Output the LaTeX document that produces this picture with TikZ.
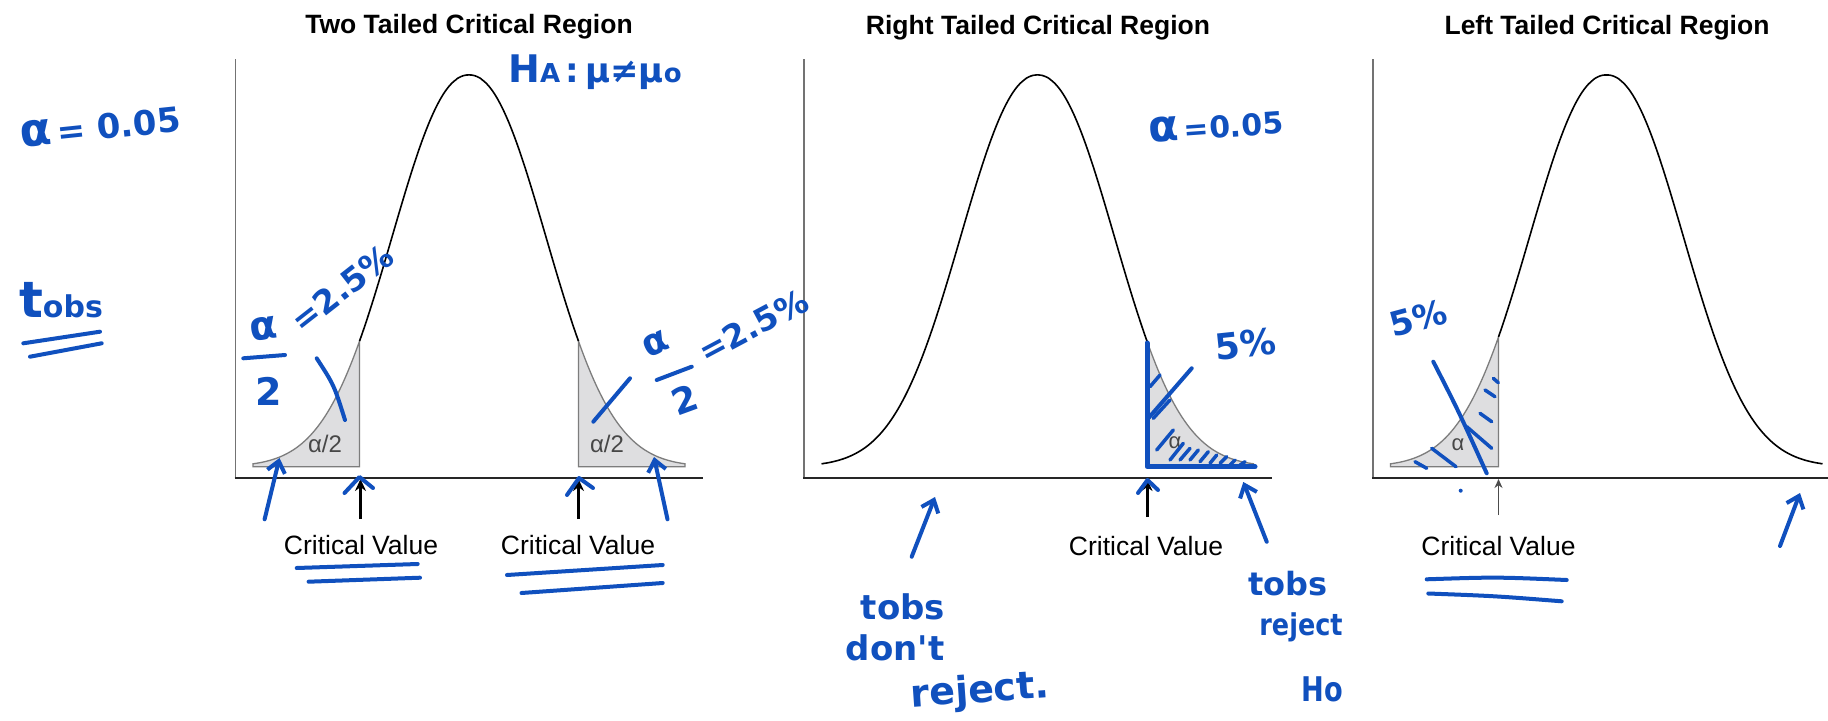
\documentclass[tikz,border=0pt]{standalone}
\usepackage{fontspec}
\setmainfont{Liberation Sans}
\newfontfamily\handfont{DejaVu Sans}
\usetikzlibrary{arrows.meta}
\definecolor{hand}{RGB}{16,80,190}
\definecolor{shadefill}{RGB}{222,222,224}
\definecolor{shadeline}{RGB}{125,125,125}
\newcommand\fs[1]{\fontsize{#1}{#1}\selectfont}
\tikzset{
  x=1pt, y=-1pt,
  declare function={bell(\t)=466.7-391.7*exp(-pow(abs(\t)/103.1+0.0001,2.15));},
  title/.style={font=\fs{26.5}\bfseries, inner sep=0pt},
  cvlabel/.style={font=\fs{26.5}, inner sep=0pt},
  areatext/.style={font=\fs{24}, text=black!72, inner sep=0pt},
  vaxis/.style={draw=black!55, line width=1.5pt},
  haxis/.style={draw=black!85, line width=2pt},
  curve/.style={draw=black, line width=1.6pt},
  tail/.style={fill=shadefill, draw=shadeline, line width=1.3pt},
  blackarr/.style={draw=black, line width=3pt, -{Stealth[length=12pt,width=11pt]}},
  thinarr/.style={draw=black!70, line width=1.8pt, -{Stealth[length=9pt,width=8pt]}},
  ink/.style={draw=hand, line width=4pt, line cap=round, line join=round},
  hatch/.style={ink, line width=3.5pt},
  inkarr/.style={ink, -{Straight Barb[length=11pt,width=18pt]}},
  handtext/.style={text=hand, inner sep=0pt, font=\handfont\bfseries},
}
\begin{document}
\begin{tikzpicture}
\useasboundingbox (0,0) rectangle (1828,720);
\fill[white] (0,0) rectangle (1828,720);

% ---------------- Panel 1: two tailed ----------------
\node[title] (t1) at (469,27) {Two Tailed Critical Region};
\draw[vaxis] (235.5,59) -- (235.5,477.7);
\draw[haxis] (234.5,477.7) -- (703,477.7);
\filldraw[tail] (253,466.7) -- plot[domain=-216:-109.5,samples=60] ({469+\x},{bell(\x)}) -- (359.5,466.7) -- cycle;
\filldraw[tail] (578.5,466.7) -- plot[domain=109.5:216,samples=60] ({469+\x},{bell(\x)}) -- (685,466.7) -- cycle;
\draw[curve] plot[domain=-109.5:109.5,samples=140] ({469+\x},{bell(\x)});
\node[areatext] (a1) at (325,444) {α/2};
\node[areatext] (a2) at (607,444) {α/2};
\node[cvlabel] (cv1) at (361,545) {Critical Value};
\node[cvlabel] (cv2) at (578,545) {Critical Value};
\coordinate (cv1s) at (360.5,519); \coordinate (cv1e) at (360.5,479);
\coordinate (cv2s) at (578.5,519); \coordinate (cv2e) at (578.5,479);
\draw[blackarr] (cv1s) -- (cv1e);
\draw[blackarr] (cv2s) -- (cv2e);

% ---------------- Panel 2: right tailed ----------------
\node[title] (t2) at (1038,27.5) {Right Tailed Critical Region};
\draw[vaxis] (804,59) -- (804,477.7);
\draw[haxis] (803,477.7) -- (1272,477.7);
\filldraw[tail] (1147,466.7) -- plot[domain=109.5:216,samples=60] ({1037.5+\x},{bell(\x)}) -- (1253.5,466.7) -- cycle;
\draw[curve] plot[domain=-216:109.5,samples=160] ({1037.5+\x},{bell(\x)});
\node[areatext, font=\fs{22}] (a3) at (1175,443) {α};
\node[cvlabel] (cv3) at (1146,546.5) {Critical Value};
\coordinate (cv3s) at (1147,517); \coordinate (cv3e) at (1147,479);
\draw[blackarr] (cv3s) -- (cv3e);

% ---------------- Panel 3: left tailed ----------------
\node[title] (t3) at (1607,27.5) {Left Tailed Critical Region};
\draw[vaxis] (1373,59) -- (1373,477.7);
\draw[haxis] (1372,477.7) -- (1828,477.7);
\filldraw[tail] (1390.5,466.7) -- plot[domain=-216:-108,samples=60] ({1606.5+\x},{bell(\x)}) -- (1498.5,466.7) -- cycle;
\draw[curve] plot[domain=-108:216,samples=160] ({1606.5+\x},{bell(\x)});
\node[areatext, font=\fs{22}] (a4) at (1458,445) {α};
\node[cvlabel] (cv4) at (1498.5,546) {Critical Value};
\coordinate (cv4s) at (1498.5,515); \coordinate (cv4e) at (1498.5,479);
\draw[thinarr] (cv4s) -- (cv4e);

% ================= handwritten annotations =================
% left margin
\node[handtext, rotate=6] (alpha0) at (100,127) {{\fs{46}α}{\fs{34}\,= 0.05}};
\node[handtext] (tobs0) at (61,300) {{\fs{50}t}{\fs{30}obs}};
\draw[ink] (23.3,343.3) -- (100,331.7);
\draw[ink] (30,356.7) -- (101.7,343.3);

% panel 1
\node[handtext] (ha) at (595,72) {{\fs{38}H}{\fs{26}A}{\fs{34}\,:\,μ≠μ}{\fs{26}o}};
\node[handtext, rotate=8] (aL) at (264,329) {\fs{40}α};
\draw[ink] (243.3,358.3) -- (285,355);
\node[handtext] (twoL) at (268.5,391) {\fs{38}2};
\node[handtext, rotate=38] (eqL) at (342,288) {\fs{33}=2.5\%};
\draw[ink] (316.7,358.3) .. controls (334,385) .. (345,420);

\node[handtext, rotate=25] (aR) at (656,344) {\fs{37}α};
\draw[ink] (656.7,380) -- (691.7,366.7);
\node[handtext, rotate=20] (twoR) at (685,399.5) {\fs{36}2};
\node[handtext, rotate=28] (eqR) at (753,326) {\fs{33}=2.5\%};
\draw[ink] (630,378.3) -- (593.3,421.7);

\coordinate (bl1s) at (264.6,519.3); \coordinate (bl1e) at (279.5,458);
\coordinate (br1s) at (667.5,519.3); \coordinate (br1e) at (654,457);
\draw[inkarr] (bl1s) -- (bl1e);
\draw[inkarr] (br1s) -- (br1e);
\draw[ink] (344.5,493) -- (359.5,477) -- (373,488);
\draw[ink] (567,495) -- (579,478) -- (593,488);
\draw[ink] (296.7,568) -- (417.7,564);
\draw[ink] (308.6,581.7) -- (420,577.7);
\draw[ink] (507,575) -- (662.7,565);
\draw[ink] (521.5,593) -- (662.7,583);

% panel 2
\node[handtext, rotate=4] (alpha2) at (1216,126) {{\fs{44}α}{\fs{30}\,=0.05}};
\node[handtext, rotate=6] (five2) at (1246,344) {\fs{36}5\%};
\draw[ink, line width=5pt] (1147,343) -- (1147,466.7) -- (1255,466.7);
\foreach \a/\b/\c/\d in {1150/386.7/1160/375, 1153.3/418.3/1170/400, 1156.7/450/1173.3/430,
  1170/460/1183.3/443.3, 1180/460/1190/448.3, 1190/460/1198.3/450, 1200/461.7/1208.3/451.7,
  1210/463.3/1216.7/455, 1220/463.3/1226.7/456.7, 1230/465/1235/460, 1240/465/1245/461.7}
  \draw[hatch] (\a,\b) -- (\c,\d);
\draw[ink] (1191.7,368.3) -- (1148.3,418.3);
\draw[ink] (1138,493) -- (1147.5,480) -- (1158,490);
\coordinate (bl2s) at (911.7,556.7); \coordinate (bl2e) at (935,497);
\coordinate (br2s) at (1266.7,541.7); \coordinate (br2e) at (1243.3,482);
\draw[inkarr] (bl2s) -- (bl2e);
\draw[inkarr] (br2s) -- (br2e);
\node[handtext] (tobs2) at (903,607) {\fs{34}tobs};
\node[handtext] (dont2) at (895,648) {\fs{34}don't};
\node[handtext, rotate=4] (rej2) at (980,692) {\fs{38}reject.};
\node[handtext] (tobs3) at (1288,584) {\fs{32}tobs};
\node[handtext, xscale=0.85] (rej3) at (1301,627) {\fs{30}reject};
\node[handtext, xscale=0.8] (ho3) at (1322,689) {\fs{34}Ho};

% panel 3
\node[handtext, rotate=15] (five3) at (1418,318) {\fs{34}5\%};
\draw[ink] (1433.3,361.7) .. controls (1458,410) .. (1486.7,473.3);
\foreach \a/\b/\c/\d in {1415/461.7/1426.7/468.3, 1431.7/448.3/1456/466.7, 1466.7/426.7/1491.7/448.3,
  1480/413.3/1491.7/421.7, 1485/390/1495/396.7, 1493.3/378.3/1498.3/382.7}
  \draw[hatch] (\a,\b) -- (\c,\d);
\fill[hand] (1460.7,490.7) circle (2);
\draw[ink] (1426.7,579.3) .. controls (1496,577) .. (1566.7,580);
\draw[ink] (1428.3,593.5) .. controls (1495,596) .. (1561.7,601.3);
\coordinate (bl3s) at (1780,546); \coordinate (bl3e) at (1800,493);
\draw[inkarr] (bl3s) -- (bl3e);
\end{tikzpicture}
\end{document}
